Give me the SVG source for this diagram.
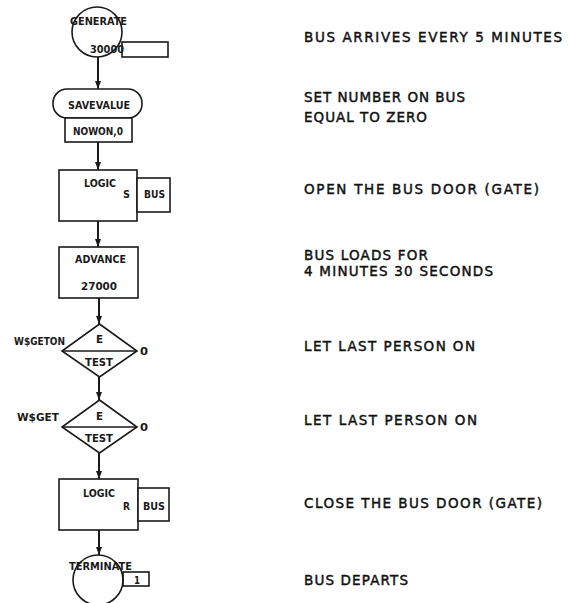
<svg xmlns="http://www.w3.org/2000/svg" width="568" height="603" viewBox="0 0 568 603">
<defs>
<style>
.s{fill:#fff;stroke:#1a1a1a;stroke-width:1.6}
.n{fill:none;stroke:#1a1a1a;stroke-width:1.6}
.c{stroke:#1a1a1a;stroke-width:2;fill:none}
.t{font-family:"DejaVu Sans",sans-serif;font-size:11px;font-weight:bold;fill:#1a1a1a}
.r{font-family:"DejaVu Sans",sans-serif;font-size:13.5px;fill:#111;stroke:#111;stroke-width:0.45}
</style>
<marker id="ah" viewBox="0 0 8 8" refX="8" refY="4" markerWidth="8" markerHeight="8" markerUnits="userSpaceOnUse" orient="auto">
<path d="M0,1 L8,4 L0,7 Z" fill="#1a1a1a"/>
</marker>
</defs>
<rect width="568" height="603" fill="#fff"/>
<g id="connectors">
<line class="c" x1="98" y1="57" x2="98" y2="89" marker-end="url(#ah)"/>
<line class="c" x1="98" y1="142" x2="98" y2="170" marker-end="url(#ah)"/>
<line class="c" x1="98" y1="221" x2="98" y2="247" marker-end="url(#ah)"/>
<line class="c" x1="99" y1="298" x2="99" y2="324" marker-end="url(#ah)"/>
<line class="c" x1="99" y1="377" x2="99" y2="400" marker-end="url(#ah)"/>
<line class="c" x1="99" y1="453" x2="99" y2="479" marker-end="url(#ah)"/>
<line class="c" x1="99" y1="530" x2="99" y2="555" marker-end="url(#ah)"/>
</g>
<g id="generate">
<rect class="s" x="122" y="42" width="46" height="15"/>
<circle class="n" cx="97" cy="32" r="25"/>
<text class="t" x="70" y="25" textLength="57" lengthAdjust="spacingAndGlyphs">GENERATE</text>
<text class="t" x="90" y="53" textLength="34" lengthAdjust="spacingAndGlyphs">30000</text>
</g>
<g id="savevalue">
<rect class="s" x="53" y="89" width="89" height="29" rx="14" ry="14"/>
<rect class="s" x="65" y="118" width="67" height="24"/>
<text class="t" x="68" y="109" textLength="62" lengthAdjust="spacingAndGlyphs">SAVEVALUE</text>
<text class="t" x="73" y="135" textLength="50" lengthAdjust="spacingAndGlyphs">NOWON,0</text>
</g>
<g id="logic-s">
<rect class="s" x="59" y="170" width="78" height="51"/>
<rect class="s" x="137" y="178" width="33" height="34"/>
<text class="t" x="84" y="187" textLength="32" lengthAdjust="spacingAndGlyphs">LOGIC</text>
<text class="t" x="123" y="198" textLength="7" lengthAdjust="spacingAndGlyphs">S</text>
<text class="t" x="144" y="198" textLength="21" lengthAdjust="spacingAndGlyphs">BUS</text>
</g>
<g id="advance">
<rect class="s" x="59" y="247" width="79" height="51"/>
<text class="t" x="75" y="263" textLength="51" lengthAdjust="spacingAndGlyphs">ADVANCE</text>
<text class="t" x="81" y="290" textLength="36" lengthAdjust="spacingAndGlyphs">27000</text>
</g>
<g id="test1">
<polygon class="s" points="99.5,324 137,351 99.5,377 62,351"/>
<line class="n" x1="62" y1="351" x2="137" y2="351"/>
<text class="t" x="96" y="343" textLength="7" lengthAdjust="spacingAndGlyphs">E</text>
<text class="t" x="85" y="366" textLength="28" lengthAdjust="spacingAndGlyphs">TEST</text>
<text class="t" x="140" y="355" textLength="8" lengthAdjust="spacingAndGlyphs">0</text>
<text class="t" x="14" y="345" textLength="51" lengthAdjust="spacingAndGlyphs">W$GETON</text>
</g>
<g id="test2">
<polygon class="s" points="99.5,400 137,427 99.5,453 62,427"/>
<line class="n" x1="62" y1="427" x2="137" y2="427"/>
<text class="t" x="96" y="420" textLength="7" lengthAdjust="spacingAndGlyphs">E</text>
<text class="t" x="85" y="442" textLength="28" lengthAdjust="spacingAndGlyphs">TEST</text>
<text class="t" x="140" y="431" textLength="8" lengthAdjust="spacingAndGlyphs">0</text>
<text class="t" x="17" y="421" textLength="42" lengthAdjust="spacingAndGlyphs">W$GET</text>
</g>
<g id="logic-r">
<rect class="s" x="59" y="479" width="79" height="51"/>
<rect class="s" x="138" y="488" width="31" height="33"/>
<text class="t" x="83" y="497" textLength="32" lengthAdjust="spacingAndGlyphs">LOGIC</text>
<text class="t" x="123" y="510" textLength="7" lengthAdjust="spacingAndGlyphs">R</text>
<text class="t" x="143" y="510" textLength="22" lengthAdjust="spacingAndGlyphs">BUS</text>
</g>
<g id="terminate">
<rect class="s" x="123" y="572" width="26" height="14"/>
<circle class="n" cx="98" cy="580" r="25"/>
<text class="t" x="69" y="570" textLength="63" lengthAdjust="spacingAndGlyphs">TERMINATE</text>
<text class="t" x="134" y="584" textLength="6" lengthAdjust="spacingAndGlyphs">1</text>
</g>
<g id="comments">
<text class="r" x="304" y="42" textLength="258" lengthAdjust="spacing">BUS ARRIVES EVERY 5 MINUTES</text>
<text class="r" x="304" y="102" textLength="161" lengthAdjust="spacing">SET NUMBER ON BUS</text>
<text class="r" x="304" y="122" textLength="123" lengthAdjust="spacing">EQUAL TO ZERO</text>
<text class="r" x="304" y="194" textLength="235" lengthAdjust="spacing">OPEN THE BUS DOOR (GATE)</text>
<text class="r" x="304" y="260" textLength="124" lengthAdjust="spacing">BUS LOADS FOR</text>
<text class="r" x="304" y="276" textLength="189" lengthAdjust="spacing">4 MINUTES 30 SECONDS</text>
<text class="r" x="304" y="351" textLength="171" lengthAdjust="spacing">LET LAST PERSON ON</text>
<text class="r" x="304" y="425" textLength="173" lengthAdjust="spacing">LET LAST PERSON ON</text>
<text class="r" x="304" y="508" textLength="238" lengthAdjust="spacing">CLOSE THE BUS DOOR (GATE)</text>
<text class="r" x="304" y="585" textLength="104" lengthAdjust="spacing">BUS DEPARTS</text>
</g>
</svg>
